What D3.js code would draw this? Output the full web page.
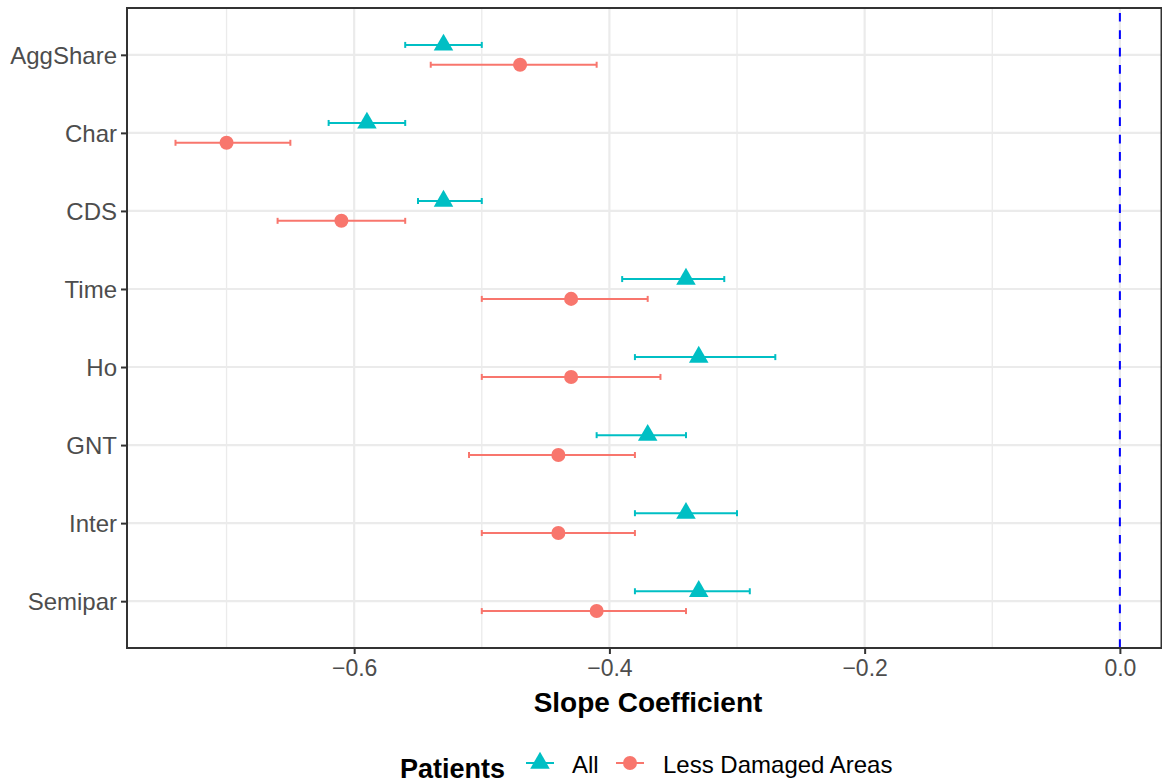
<!DOCTYPE html>
<html>
<head>
<meta charset="utf-8">
<script src="https://cdn.jsdelivr.net/npm/d3@7"></script>
<style>
  body { margin: 0; background: #fff; }
  svg { display: block; font-family: "Liberation Sans", Arial, sans-serif; }
</style>
</head>
<body>
<svg id="chart" width="1162" height="783"></svg>
<script>
// models on the y axis, top to bottom
const models = ['AggShare', 'Char', 'CDS', 'Time', 'Ho', 'GNT', 'Inter', 'Semipar'];

// series: All patients
const allEst   = [-0.53, -0.59, -0.53, -0.34, -0.33, -0.37, -0.34, -0.33];
const allLow   = [-0.56, -0.62, -0.55, -0.39, -0.38, -0.41, -0.38, -0.38];
const allHigh  = [-0.50, -0.56, -0.50, -0.31, -0.27, -0.34, -0.30, -0.29];

// series: Less Damaged Areas
const lessEst  = [-0.47, -0.70, -0.61, -0.43, -0.43, -0.44, -0.44, -0.41];
const lessLow  = [-0.54, -0.74, -0.66, -0.50, -0.50, -0.51, -0.50, -0.50];
const lessHigh = [-0.41, -0.65, -0.56, -0.37, -0.36, -0.38, -0.38, -0.34];

const xTicks = [-0.6, -0.4, -0.2, 0.0];
const xMinor = [-0.7, -0.5, -0.3, -0.1];
const refLine = 0;

const seriesNames = ['All', 'Less Damaged Areas'];
const colors = { 'All': '#00BFC4', 'Less Damaged Areas': '#F8766D' };

// panel box
const pL = 127, pR = 1162, pT = 8, pB = 648;

const svg = d3.select('#chart');

const x = d3.scaleLinear().domain([-0.778, 0.033]).range([pL, pR]);
const y = d3.scalePoint().domain(models).range([pT, pB]).padding(0.6);
const dodge = y.step() * 0.127;

// build rows from the arrays
const rows = [];
models.forEach((m, i) => {
  rows.push({ model: m, series: 'All', est: allEst[i], lo: allLow[i], hi: allHigh[i], off: -dodge });
  rows.push({ model: m, series: 'Less Damaged Areas', est: lessEst[i], lo: lessLow[i], hi: lessHigh[i], off: dodge });
});

// grid lines
const grid = svg.append('g');
grid.selectAll('.minor').data(xMinor).enter().append('line')
  .attr('x1', d => x(d)).attr('x2', d => x(d))
  .attr('y1', pT).attr('y2', pB)
  .attr('stroke', '#EBEBEB').attr('stroke-width', 1.3);
grid.selectAll('.majorx').data(xTicks).enter().append('line')
  .attr('x1', d => x(d)).attr('x2', d => x(d))
  .attr('y1', pT).attr('y2', pB)
  .attr('stroke', '#EBEBEB').attr('stroke-width', 2.2);
grid.selectAll('.majory').data(models).enter().append('line')
  .attr('x1', pL).attr('x2', pR)
  .attr('y1', d => y(d)).attr('y2', d => y(d))
  .attr('stroke', '#EBEBEB').attr('stroke-width', 2.2);

// reference line at zero, dashes start from the bottom
svg.append('line')
  .attr('x1', x(refLine)).attr('x2', x(refLine))
  .attr('y1', pB).attr('y2', pT)
  .attr('stroke', '#0000FF').attr('stroke-width', 2)
  .attr('stroke-dasharray', '8.7,8.7');

// error bars
const eb = svg.append('g').selectAll('g').data(rows).enter().append('g')
  .attr('stroke', d => colors[d.series]).attr('stroke-width', 2);
eb.append('line')
  .attr('x1', d => x(d.lo)).attr('x2', d => x(d.hi))
  .attr('y1', d => y(d.model) + d.off).attr('y2', d => y(d.model) + d.off);
eb.append('line')
  .attr('x1', d => x(d.lo)).attr('x2', d => x(d.lo))
  .attr('y1', d => y(d.model) + d.off - 3).attr('y2', d => y(d.model) + d.off + 3);
eb.append('line')
  .attr('x1', d => x(d.hi)).attr('x2', d => x(d.hi))
  .attr('y1', d => y(d.model) + d.off - 3).attr('y2', d => y(d.model) + d.off + 3);

// points
const tri = d3.symbol().type(d3.symbolTriangle).size(165);
const circ = d3.symbol().type(d3.symbolCircle).size(155);
svg.append('g').selectAll('path').data(rows).enter().append('path')
  .attr('d', d => d.series === 'All' ? tri() : circ())
  .attr('transform', d => `translate(${x(d.est)},${y(d.model) + d.off})`)
  .attr('fill', d => colors[d.series]);

// panel border
svg.append('rect')
  .attr('x', pL).attr('y', pT)
  .attr('width', pR - pL - 0.5).attr('height', pB - pT)
  .attr('fill', 'none').attr('stroke', '#333333').attr('stroke-width', 2);

// axes
const xAxis = svg.append('g')
  .attr('transform', `translate(0,${pB})`)
  .call(d3.axisBottom(x).tickValues(xTicks).tickFormat(d3.format('.1f')).tickSize(6).tickPadding(6));
const yAxis = svg.append('g')
  .attr('transform', `translate(${pL},0)`)
  .call(d3.axisLeft(y).tickSize(6).tickPadding(4));
[xAxis, yAxis].forEach(a => {
  a.select('.domain').remove();
  a.selectAll('.tick line').attr('stroke', '#333333').attr('stroke-width', 2);
  a.selectAll('.tick text').attr('fill', '#4D4D4D')
    .style('font-family', '"Liberation Sans", Arial, sans-serif');
});
xAxis.selectAll('.tick text').style('font-size', '23px');
yAxis.selectAll('.tick text').style('font-size', '24px').attr('dy', '0.36em');

// axis title
svg.append('text')
  .attr('x', 648).attr('y', 712)
  .attr('text-anchor', 'middle')
  .style('font-size', '28px').style('font-weight', 'bold')
  .text('Slope Coefficient');

// legend
const legend = svg.append('g');
legend.append('text')
  .attr('x', 400).attr('y', 778)
  .style('font-size', '27px').style('font-weight', 'bold')
  .text('Patients');

const keyX = [540, 630];
const labelX = [572, 663];
seriesNames.forEach((s, i) => {
  legend.append('line')
    .attr('x1', keyX[i] - 14).attr('x2', keyX[i] + 14)
    .attr('y1', 763).attr('y2', 763)
    .attr('stroke', colors[s]).attr('stroke-width', 2);
  legend.append('path')
    .attr('d', i === 0 ? tri() : circ())
    .attr('transform', `translate(${keyX[i]},763)`)
    .attr('fill', colors[s]);
  legend.append('text')
    .attr('x', labelX[i]).attr('y', 773)
    .style('font-size', '24px')
    .text(s);
});
</script>
</body>
</html>
